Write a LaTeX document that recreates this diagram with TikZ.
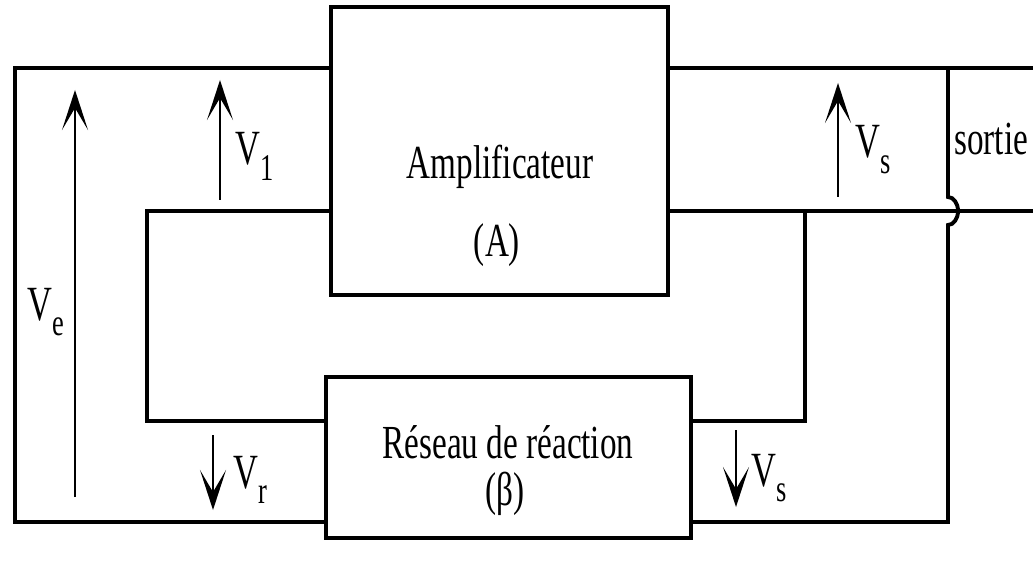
\documentclass[tikz,border=0pt]{standalone}
\usepackage{fontspec}
\setmainfont{Liberation Serif}
\usetikzlibrary{arrows.meta, calc}

\newcommand\lowsub[1]{\raisebox{-9pt}{\fontsize{21.5}{24}\selectfont #1}}

\begin{document}
\begin{tikzpicture}[
  x=0.02cm, y=-0.02cm,
  wire/.style={line width=2.2pt},
  blockbox/.style={draw, line width=2.4pt, inner sep=0pt, outer sep=0pt},
  volt/.style={line width=1.3pt, -{Stealth[length=8mm, width=5.2mm, inset=4.4mm]}},
  boxtext/.style={font=\fontsize{27}{30}\selectfont, xscale=0.7, inner sep=0pt},
  vlabel/.style={font=\fontsize{28}{30}\selectfont, xscale=0.7, inner sep=0pt, anchor=base west}
]
\useasboundingbox (0,0) rectangle (1033,567);

% blocks
\node[blockbox, minimum width=6.74cm, minimum height=5.76cm] (amp) at (499.5,151) {};
\node[blockbox, minimum width=7.3cm, minimum height=3.22cm] (fb) at (508.5,457.5) {};

\node[boxtext, anchor=base] (ampname) at (500,179) {Amplificateur};
\node[boxtext, anchor=base] (ampsym)  at (497,256) {(A)};
\node[boxtext, anchor=base] (fbname)  at (508,458) {Réseau de réaction};
\node[boxtext, anchor=base] (fbsym)   at (505,505) {(β)};

% wiring corners
\coordinate (tl)     at (15,68);
\coordinate (bl)     at (15,522);
\coordinate (il)     at (147,211);
\coordinate (ilb)    at (147,421);
\coordinate (outtop) at (1033,68);
\coordinate (outmid) at (1033,211);
\coordinate (rt)     at (948,68);
\coordinate (rb)     at (948,522);
\coordinate (fbt)    at (805,211);
\coordinate (fbb)    at (805,421);

\draw[wire] (amp.west |- tl) -- (tl) -- (bl) -- (fb.west |- bl);
\draw[wire] (amp.west |- il) -- (il) -- (ilb) -- (fb.west |- ilb);
\draw[wire] (amp.east |- tl) -- (outtop);
\draw[wire] (amp.east |- il) -- (outmid);
\draw[wire] (fbt) -- (fbb) -- (fb.east |- fbb);
% output line with hop over the middle wire
\draw[wire] (rt) -- ($(rt |- outmid)+(0,-14)$)
  arc[start angle=-90, end angle=90, x radius=10, y radius=14]
  -- (rb) -- (fb.east |- rb);

% voltage arrows
\coordinate (ve0) at (75,497);  \coordinate (ve1) at (75,90);
\coordinate (v10) at (220,200); \coordinate (v11) at (220,80);
\coordinate (vs0) at (838,197); \coordinate (vs1) at (838,83);
\coordinate (vr0) at (213,435); \coordinate (vr1) at (213,510);
\coordinate (vb0) at (736,430); \coordinate (vb1) at (736,507);
\draw[volt] (ve0) -- (ve1);
\draw[volt] (v10) -- (v11);
\draw[volt] (vs0) -- (vs1);
\draw[volt] (vr0) -- (vr1);
\draw[volt] (vb0) -- (vb1);

\node[vlabel] (lve) at (27,320)  {V\lowsub{e}};
\node[vlabel] (lv1) at (235,165) {V\lowsub{1}};
\node[vlabel] (lvs) at (855,158) {V\lowsub{s}};
\node[vlabel] (lvr) at (233,488) {V\lowsub{r}};
\node[vlabel] (lvb) at (751,486) {V\lowsub{s}};
\node[boxtext, anchor=base west] (sortie) at (954,155) {sortie};
\end{tikzpicture}
\end{document}
